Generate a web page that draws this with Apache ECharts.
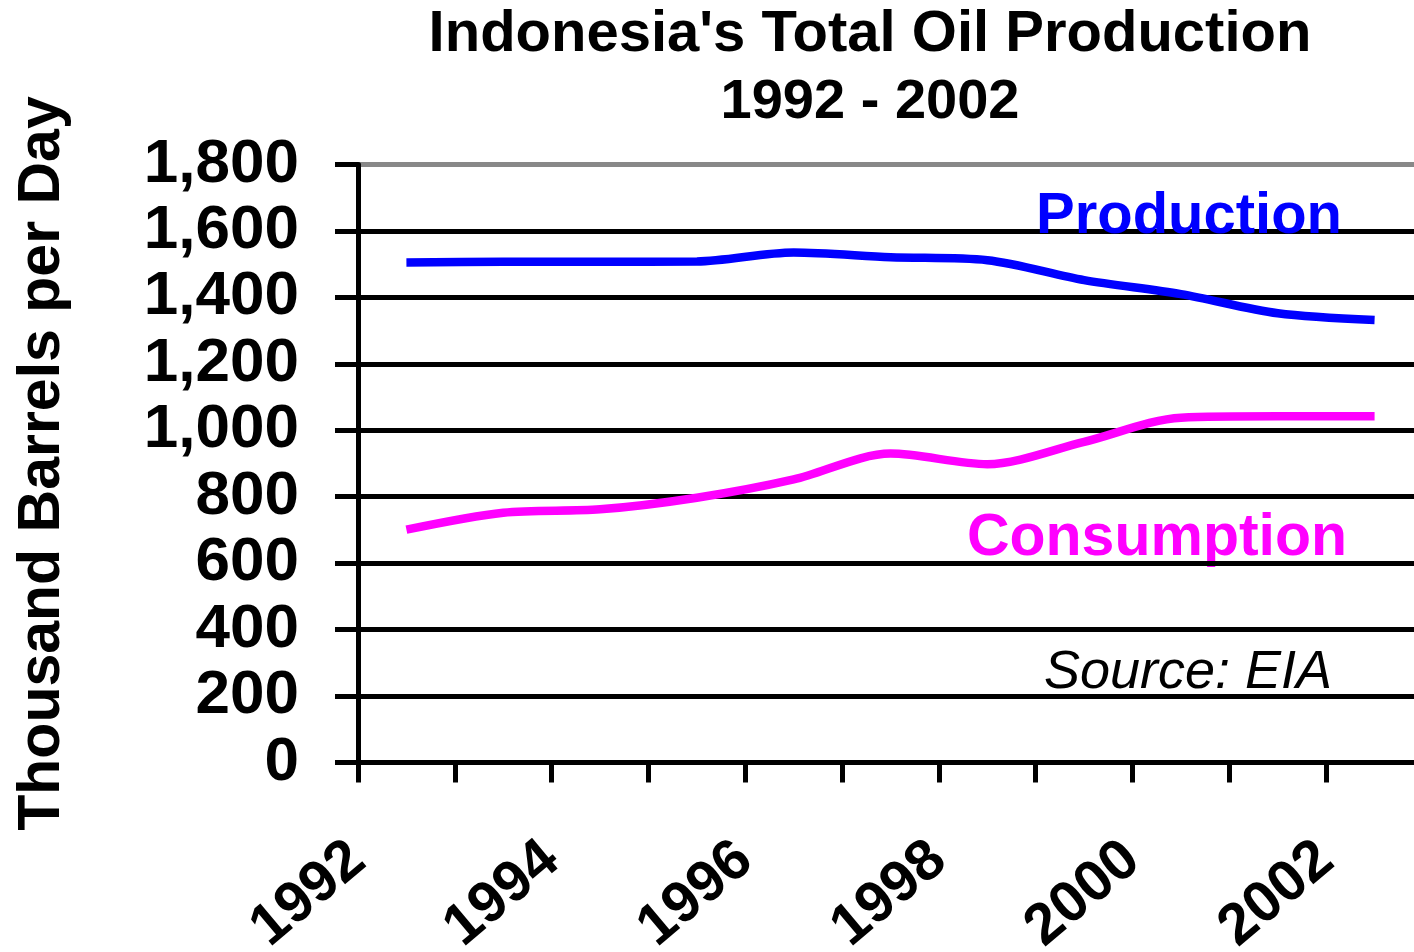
<!DOCTYPE html>
<html>
<head>
<meta charset="utf-8">
<title>Indonesia's Total Oil Production</title>
<script src="https://cdn.jsdelivr.net/npm/echarts@6/dist/echarts.min.js"></script>
<style>
  html, body { margin: 0; padding: 0; background: #fff; }
  #chart { width: 1414px; height: 952px; }
</style>
</head>
<body>
<div id="chart"></div>
<script>
// data (thousand barrels per day)
const years = [1992, 1993, 1994, 1995, 1996, 1997, 1998, 1999, 2000, 2001, 2002]
const production = [1505, 1507, 1507, 1508, 1535, 1521, 1512, 1452, 1410, 1352, 1332]
const consumption = [701, 752, 762, 797, 852, 930, 898, 965, 1038, 1042, 1042]
const yTicks = [0, 200, 400, 600, 800, 1000, 1200, 1400, 1600, 1800]

const FONT = '"Liberation Sans", Arial, sans-serif'

// annual values drawn in the middle of each year slot
const toPoints = vals => years.map((y, i) => [y + 0.5, vals[i]])

let chart = echarts.init(document.getElementById('chart'), null, { renderer: 'canvas' })

chart.setOption({
  backgroundColor: '#fff',
  animation: false,
  // plot runs a little past the right edge of the picture, like the original
  grid: { left: 358, right: -9, top: 164.5, bottom: 189.5, containLabel: false, outerBoundsMode: 'none' },
  xAxis: {
    type: 'value',
    min: years[0],
    max: years[years.length - 1] + 1,
    interval: 1,
    axisLine: { show: true, lineStyle: { color: '#000', width: 5 } },
    axisTick: { show: true, length: 20, lineStyle: { color: '#000', width: 5 } },
    splitLine: { show: false },
    axisLabel: {
      rotate: 40,
      margin: 90,
      color: '#000',
      fontFamily: FONT,
      fontWeight: 'bold',
      fontSize: 58,
      showMaxLabel: false,
      formatter: v => (v % 2 === 0 && v <= 2002) ? String(v) : ''
    }
  },
  yAxis: {
    type: 'value',
    min: yTicks[0],
    max: yTicks[yTicks.length - 1],
    interval: 200,
    name: 'Thousand Barrels per Day',
    nameLocation: 'middle',
    nameRotate: 90,
    nameGap: 286,
    nameTextStyle: { color: '#000', fontFamily: FONT, fontWeight: 'bold', fontSize: 59 },
    axisLine: { show: true, lineStyle: { color: '#000', width: 5 } },
    axisTick: { show: true, length: 23, lineStyle: { color: '#000', width: 5 } },
    splitLine: {
      show: true,
      lineStyle: {
        width: 5,
        // the top (1,800) gridline is grey in the original
        color: ['#000', '#000', '#000', '#000', '#000', '#000', '#000', '#000', '#000', '#888']
      }
    },
    axisLabel: {
      margin: 59,
      color: '#000',
      fontFamily: FONT,
      fontWeight: 'bold',
      fontSize: 62,
      formatter: v => v.toLocaleString('en-US')
    }
  },
  series: [
    {
      name: 'Production',
      type: 'line',
      data: toPoints(production),
      smooth: 0.3,
      showSymbol: false,
      lineStyle: { color: '#0000ff', width: 8.5 },
      itemStyle: { color: '#0000ff' },
      z: 3
    },
    {
      name: 'Consumption',
      type: 'line',
      data: toPoints(consumption),
      smooth: 0.3,
      showSymbol: false,
      lineStyle: { color: '#ff00ff', width: 8.5 },
      itemStyle: { color: '#ff00ff' },
      z: 3
    }
  ],
  graphic: [
    {
      type: 'text',
      x: 870, y: 35,
      style: {
        text: "Indonesia's Total Oil Production",
        fill: '#000', font: 'bold 58px ' + FONT,
        align: 'center', verticalAlign: 'middle', textAlign: 'center', textVerticalAlign: 'middle'
      }
    },
    {
      type: 'text',
      x: 870, y: 103,
      style: {
        text: '1992 - 2002',
        fill: '#000', font: 'bold 56px ' + FONT,
        align: 'center', verticalAlign: 'middle', textAlign: 'center', textVerticalAlign: 'middle'
      }
    },
    {
      type: 'text',
      x: 1189, y: 217,
      z: 10,
      style: {
        text: 'Production',
        fill: '#0000ff', font: 'bold 58px ' + FONT,
        align: 'center', verticalAlign: 'middle', textAlign: 'center', textVerticalAlign: 'middle'
      }
    },
    {
      type: 'text',
      x: 1157, y: 539,
      style: {
        text: 'Consumption',
        fill: '#ff00ff', font: 'bold 59px ' + FONT,
        align: 'center', verticalAlign: 'middle', textAlign: 'center', textVerticalAlign: 'middle'
      }
    },
    {
      type: 'text',
      x: 1188, y: 673,
      style: {
        text: 'Source: EIA',
        fill: '#000', font: 'italic 54px ' + FONT,
        align: 'center', verticalAlign: 'middle', textAlign: 'center', textVerticalAlign: 'middle'
      }
    }
  ]
})
</script>
</body>
</html>
